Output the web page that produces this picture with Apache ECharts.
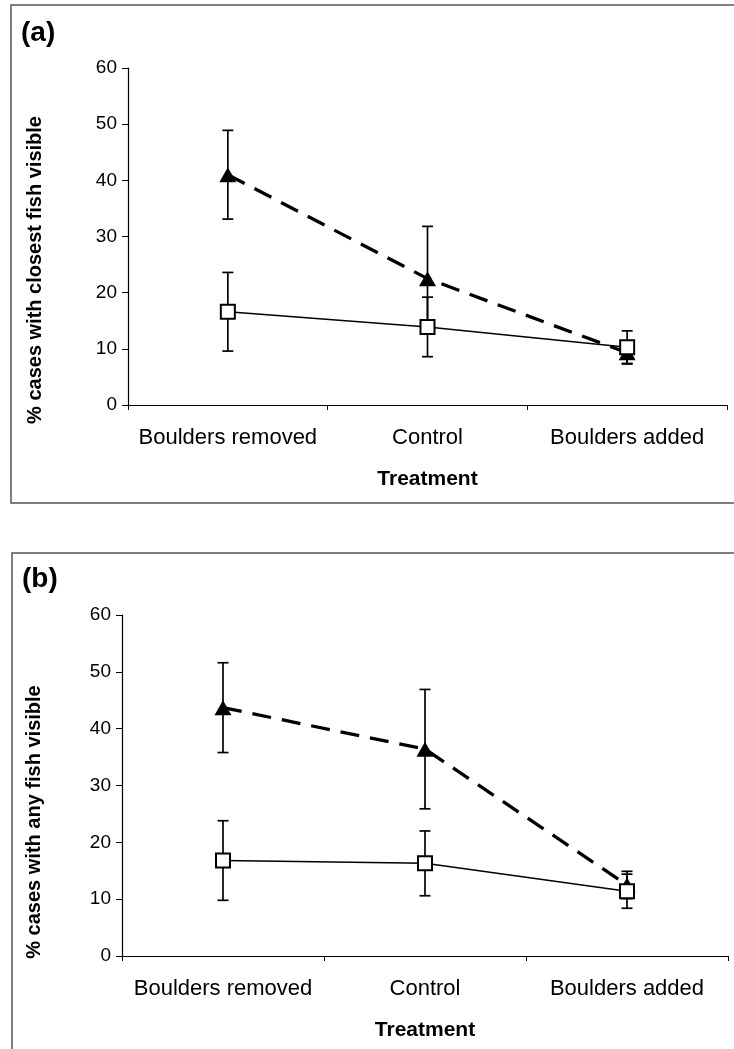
<!DOCTYPE html>
<html>
<head>
<meta charset="utf-8">
<script src="https://cdn.jsdelivr.net/npm/echarts@6/dist/echarts.min.js"></script>
<style>
html,body{margin:0;padding:0;background:#fff;}
#chart{width:734px;height:1049px;}
</style>
</head>
<body>
<div id="chart"></div>
<script>
// ---- data ----
var categories = ['Boulders removed', 'Control', 'Boulders added'];
var yTicks = [0, 10, 20, 30, 40, 50, 60];
// panel (a): % cases with closest fish visible
var aTriangle = [41.0, 22.5, 9.3];
var aTriangleErr = [7.9, 9.3, 2.0];
var aSquare = [16.6, 13.9, 10.3];
var aSquareErr = [7.0, 5.3, 2.9];
// panel (b): % cases with any fish visible
var bTriangle = [43.7, 36.4, 12.5];
var bTriangleErr = [7.9, 10.5, 2.4];
var bSquare = [16.8, 16.3, 11.4];
var bSquareErr = [7.0, 5.7, 3.0];
var panelLabels = ['(a)', '(b)'];
var yTitles = ['% cases with closest fish visible', '% cases with any fish visible'];
var xTitle = 'Treatment';

var FONT = '"Liberation Sans", Arial, Helvetica, sans-serif';

function errData(vals, errs) {
  return vals.map(function (v, i) { return [i, v - errs[i], v + errs[i]]; });
}
function errRender(params, api) {
  var i = api.value(0);
  var lo = api.coord([i, api.value(1)]);
  var hi = api.coord([i, api.value(2)]);
  var w = 5.5;
  var st = { stroke: '#000', lineWidth: 1.7 };
  return {
    type: 'group',
    children: [
      { type: 'line', shape: { x1: lo[0], y1: lo[1], x2: hi[0], y2: hi[1] }, style: st },
      { type: 'line', shape: { x1: lo[0] - w, y1: lo[1], x2: lo[0] + w, y2: lo[1] }, style: st },
      { type: 'line', shape: { x1: hi[0] - w, y1: hi[1], x2: hi[0] + w, y2: hi[1] }, style: st }
    ]
  };
}

var grids = [
  { left: 128, right: 7, top: 68, bottom: 1049 - 405 },
  { left: 122, right: 6, top: 615, bottom: 1049 - 956 }
];

function xAxis(gi) {
  return {
    type: 'category', gridIndex: gi, data: categories, boundaryGap: true,
    name: xTitle, nameLocation: 'middle', nameGap: 64,
    nameTextStyle: { fontFamily: FONT, fontWeight: 'bold', fontSize: 21, color: '#000' },
    axisLine: { lineStyle: { color: '#000', width: 1.2 } },
    axisTick: { show: true, alignWithLabel: false, interval: 0, length: 5, inside: false, lineStyle: { color: '#000', width: 1 } },
    axisLabel: { interval: 0, hideOverlap: false, margin: 22, fontFamily: FONT, fontSize: 22, color: '#000' },
    splitLine: { show: false }
  };
}
function yAxis(gi) {
  return {
    type: 'value', gridIndex: gi, min: yTicks[0], max: yTicks[yTicks.length - 1], interval: yTicks[1] - yTicks[0],
    axisLine: { show: true, lineStyle: { color: '#000', width: 1.2 } },
    axisTick: { show: true, length: 6, lineStyle: { color: '#000', width: 1 } },
    axisLabel: { margin: 11, fontFamily: FONT, fontSize: 19, color: '#000' },
    splitLine: { show: false }
  };
}

function panelSeries(gi, tri, triErr, sq, sqErr) {
  return [
    { type: 'custom', xAxisIndex: gi, yAxisIndex: gi, renderItem: errRender, data: errData(tri, triErr), z: 1, silent: true },
    { type: 'custom', xAxisIndex: gi, yAxisIndex: gi, renderItem: errRender, data: errData(sq, sqErr), z: 1, silent: true },
    { type: 'line', xAxisIndex: gi, yAxisIndex: gi, data: tri, z: 3,
      symbol: 'triangle', symbolSize: [17, 15], showSymbol: true,
      itemStyle: { color: '#000', borderWidth: 0 },
      lineStyle: { color: '#000', width: 3.3, type: [19, 11] }, animation: false },
    { type: 'line', xAxisIndex: gi, yAxisIndex: gi, data: sq, z: 4,
      symbol: 'rect', symbolSize: 14, showSymbol: true,
      itemStyle: { color: '#fff', borderColor: '#000', borderWidth: 2 },
      lineStyle: { color: '#000', width: 1.5 }, animation: false }
  ];
}

var series = [].concat(
  panelSeries(0, aTriangle, aTriangleErr, aSquare, aSquareErr),
  panelSeries(1, bTriangle, bTriangleErr, bSquare, bSquareErr)
);

var chart = echarts.init(document.getElementById('chart'), null, { renderer: 'canvas' });
chart.setOption({
  backgroundColor: '#fff',
  animation: false,
  grid: grids,
  xAxis: [xAxis(0), xAxis(1)],
  yAxis: [yAxis(0), yAxis(1)],
  series: series,
  graphic: [
    { type: 'rect', shape: { x: 11, y: 5, width: 730, height: 498 }, style: { fill: 'none', stroke: '#555', lineWidth: 1.5 } },
    { type: 'rect', shape: { x: 12, y: 553, width: 730, height: 520 }, style: { fill: 'none', stroke: '#555', lineWidth: 1.5 } },
    { type: 'text', left: 21, top: 19, style: { text: panelLabels[0], font: 'bold 28px ' + FONT, fill: '#000' } },
    { type: 'text', left: 22, top: 565, style: { text: panelLabels[1], font: 'bold 28px ' + FONT, fill: '#000' } },
    { type: 'text', x: 35, y: 270, rotation: Math.PI / 2, style: { text: yTitles[0], font: 'bold 20px ' + FONT, fill: '#000', align: 'center', verticalAlign: 'middle' } },
    { type: 'text', x: 34, y: 822, rotation: Math.PI / 2, style: { text: yTitles[1], font: 'bold 20px ' + FONT, fill: '#000', align: 'center', verticalAlign: 'middle' } }
  ]
});
</script>
</body>
</html>
